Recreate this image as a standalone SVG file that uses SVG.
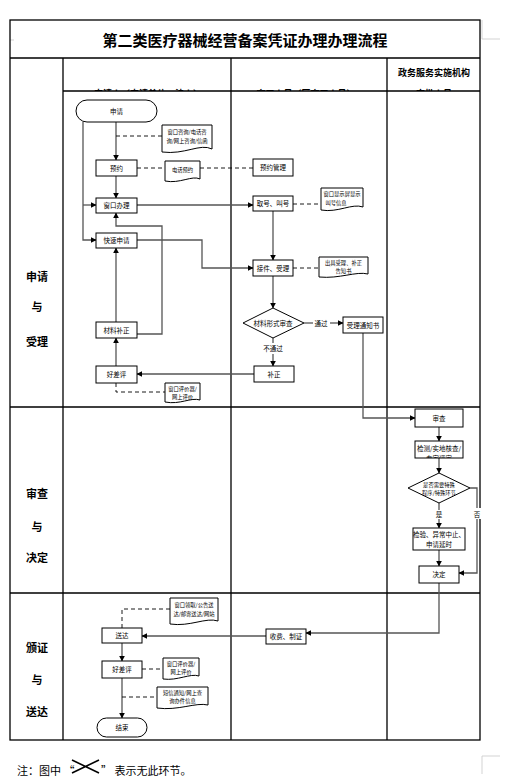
<svg xmlns="http://www.w3.org/2000/svg" width="528" height="782" viewBox="0 0 528 782">
<defs>
<marker id="ah" viewBox="0 0 10 10" refX="9" refY="5" markerWidth="6" markerHeight="6" orient="auto" markerUnits="userSpaceOnUse"><path d="M0,0 L10,5 L0,10 z" fill="#000"/></marker>
<clipPath id="hdr"><rect x="63" y="58" width="417" height="33"/></clipPath>
<clipPath id="chk"><rect x="415" y="441" width="48" height="17"/></clipPath>
<style>
.tb{fill:none;stroke:#000;stroke-width:1.3}
.bx{fill:#fff;stroke:#000;stroke-width:1}
.t{font-family:"Noto Sans CJK SC","Noto Sans",sans-serif;font-size:6.5px;text-anchor:middle;fill:#000}
.s{font-family:"Noto Sans CJK SC","Noto Sans",sans-serif;font-size:5.3px;text-anchor:middle;fill:#000}
.lb{font-family:"Noto Sans CJK SC",sans-serif;font-size:11px;font-weight:bold;text-anchor:middle;fill:#000}
.h{font-family:"Noto Sans CJK SC",sans-serif;font-size:9px;font-weight:bold;text-anchor:middle;fill:#000}
.c{fill:none;stroke:#555;stroke-width:1.3}
.ca{fill:none;stroke:#555;stroke-width:1.3;marker-end:url(#ah)}
.d{fill:none;stroke:#000;stroke-width:0.9;stroke-dasharray:4,3}
.pm{fill:none;stroke:#c8c8c8;stroke-width:0.8}
</style>
</defs>
<rect width="528" height="782" fill="#fff"/>
<path class="pm" d="M482,20 V39 H500 M10,40 H14 M482,774 V756 H500"/>
<g id="table">
<rect class="tb" x="10" y="20" width="470" height="720"/>
<path class="tb" d="M10,58 H480 M63,91 H480 M10,407 H480 M10,593 H480 M63,58 V740 M231,58 V740 M387,58 V740"/>
<text x="245" y="46" font-family="Noto Sans CJK SC,sans-serif" font-size="15" font-weight="bold" text-anchor="middle">第二类医疗器械经营备案凭证办理办理流程</text>
<g clip-path="url(#hdr)">
<text class="h" x="148" y="97">申请人（申请单位、法人）</text>
<text class="h" x="306" y="97">窗口人员（区窗口人员）</text>
<text class="h" x="434" y="76">政务服务实施机构</text>
<text class="h" x="434" y="97">审批人员</text>
</g>
<text class="lb" x="37" y="281">申请</text>
<text class="lb" x="37" y="311">与</text>
<text class="lb" x="37" y="346">受理</text>
<text class="lb" x="37" y="498">审查</text>
<text class="lb" x="37" y="531">与</text>
<text class="lb" x="37" y="562">决定</text>
<text class="lb" x="37" y="652">颁证</text>
<text class="lb" x="37" y="684">与</text>
<text class="lb" x="37" y="716">送达</text>
</g>
<g id="connectors">
<path class="c" d="M83,122 V205"/>
<path class="ca" d="M83,205 H96"/>
<path class="ca" d="M83,205 V240 H96"/>
<path class="ca" d="M116,122 V160"/>
<path class="ca" d="M116,176 V198"/>
<path class="ca" d="M137,205 H253"/>
<path class="ca" d="M273,211 V260"/>
<path class="ca" d="M137,240 H202 V268 H253"/>
<path class="ca" d="M273,276 V308"/>
<path class="c" d="M304,323 H313"/>
<path class="ca" d="M330,323 H343"/>
<path class="c" d="M273,338 V343"/>
<path class="ca" d="M273,354 V366"/>
<path class="ca" d="M254,374 H137"/>
<path class="ca" d="M116,366 V338"/>
<path class="ca" d="M116,322 V248"/>
<path class="ca" d="M137,334 H162 V226 H116 V213"/>
<path class="ca" d="M363,333 V418 H415"/>
<path class="ca" d="M439,427 V441"/>
<path class="ca" d="M439,458 V473"/>
<path class="c" d="M439,503 V510"/>
<path class="ca" d="M439,519 V528"/>
<path class="ca" d="M470,488 H477 V573 H459"/>
<path class="ca" d="M439,550 V566"/>
<path class="ca" d="M439,583 V633 H306"/>
<path class="ca" d="M266,636 H142"/>
<path class="ca" d="M122,643 V661"/>
<path class="ca" d="M122,678 V718"/>
<path class="d" d="M116,136 H162"/>
<path class="d" d="M137,168 H165 M200,168 H253"/>
<path class="d" d="M293,204 H321"/>
<path class="d" d="M293,268 H319"/>
<path class="d" d="M116,383 V392 H165"/>
<path class="d" d="M122,628 V609 H170"/>
<path class="d" d="M142,669 H163"/>
<path class="d" d="M122,697 H157"/>
<text class="t" x="321" y="325.5">通过</text>
<text class="t" x="273" y="351">不通过</text>
<rect x="473" y="508" width="8" height="11" fill="#fff"/>
<text class="t" x="477" y="517" font-size="8">否</text>
<text class="t" x="439" y="517">是</text>
</g>
<g id="n-apply"><rect class="bx" x="76" y="100" width="81" height="22" rx="11"/><text class="t" x="116.5" y="113.5">申请</text></g>
<g id="n-doc1"><path class="bx" d="M162,125 H212 V149 C200,143 185,155 162,152 Z"/><text class="s" x="187" y="134">窗口咨询/电话咨</text><text class="s" x="187" y="143">询/网上咨询/信函</text></g>
<g id="n-yy"><rect class="bx" x="96" y="160" width="41" height="16"/><text class="t" x="116.5" y="170.5">预约</text></g>
<g id="n-doc2"><path class="bx" d="M165,161 H200 V179 C192,175 180,184 165,181 Z"/><text class="s" x="182.5" y="171.5">电话预约</text></g>
<g id="n-yygl"><rect class="bx" x="253" y="159" width="40" height="17"/><text class="t" x="273" y="170">预约管理</text></g>
<g id="n-ckbl"><rect class="bx" x="96" y="198" width="41" height="15"/><text class="t" x="116.5" y="208">窗口办理</text></g>
<g id="n-qh"><rect class="bx" x="253" y="196" width="40" height="15"/><text class="t" x="273" y="206">取号、叫号</text></g>
<g id="n-doc3"><path class="bx" d="M321,188 H363 V207 C352,203 338,213 321,210 Z"/><text class="s" x="342" y="196">窗口显示屏显示</text><text class="s" x="336" y="204.5">叫号信息</text></g>
<g id="n-kssq"><rect class="bx" x="96" y="233" width="41" height="15"/><text class="t" x="116.5" y="243">快速申请</text></g>
<g id="n-jj"><rect class="bx" x="253" y="260" width="40" height="16"/><text class="t" x="273" y="270.5">接件、受理</text></g>
<g id="n-doc4"><path class="bx" d="M319,257 H368 V274 C356,271 340,279 319,277 Z"/><text class="s" x="343.5" y="264.5">出具受理、补正</text><text class="s" x="343.5" y="273">告知书</text></g>
<g id="n-dia1"><path class="bx" d="M273,308 L304,323 L273,338 L243,323 Z"/><text class="t" x="273" y="325.5" font-size="5.5">材料形式审查</text></g>
<g id="n-sltz"><rect class="bx" x="343" y="317" width="40" height="16"/><text class="t" x="363" y="327.5">受理通知书</text></g>
<g id="n-bz"><rect class="bx" x="254" y="366" width="40" height="16"/><text class="t" x="274" y="376.5">补正</text></g>
<g id="n-clbz"><rect class="bx" x="96" y="322" width="41" height="16"/><text class="t" x="116.5" y="332.5">材料补正</text></g>
<g id="n-hcp1"><rect class="bx" x="96" y="366" width="41" height="17"/><text class="t" x="116.5" y="377">好差评</text></g>
<g id="n-doc5"><path class="bx" d="M165,383 H200 V400 C191,397 180,405 165,402 Z"/><text class="s" x="182.5" y="390.5">窗口评价器/</text><text class="s" x="182.5" y="399">网上评价</text></g>
<g id="n-sc"><rect class="bx" x="415" y="409" width="48" height="18"/><text class="t" x="439" y="420.5">审查</text></g>
<g id="n-jc"><rect class="bx" x="415" y="441" width="48" height="17"/><g clip-path="url(#chk)"><text class="t" x="439" y="451">检测/实地核查/</text><text class="t" x="439" y="461">专家评审</text></g></g>
<g id="n-dia2"><path class="bx" d="M439,473 L470,488 L439,503 L408,488 Z"/><text class="s" x="439" y="487" font-size="5">是否需要特殊</text><text class="s" x="439" y="494.5" font-size="4">程序/特殊环节</text></g>
<g id="n-jy"><rect class="bx" x="413" y="528" width="52" height="22"/><text class="t" x="439" y="537">检验、异常中止、</text><text class="t" x="439" y="547">申请延时</text></g>
<g id="n-jd"><rect class="bx" x="419" y="566" width="40" height="17"/><text class="t" x="439" y="577">决定</text></g>
<g id="n-sf"><rect class="bx" x="266" y="629" width="40" height="15"/><text class="t" x="286" y="639">收费、制证</text></g>
<g id="n-doc6"><path class="bx" d="M170,598 H218 V621 C206,617 190,627 170,624 Z"/><text class="s" x="194" y="607">窗口领取/公告送</text><text class="s" x="194" y="616">达/邮寄送达/网站</text></g>
<g id="n-sd"><rect class="bx" x="102" y="628" width="40" height="15"/><text class="t" x="122" y="638">送达</text></g>
<g id="n-hcp2"><rect class="bx" x="102" y="661" width="40" height="17"/><text class="t" x="122" y="672">好差评</text></g>
<g id="n-doc7"><path class="bx" d="M163,658 H199 V676 C190,673 178,681 163,679 Z"/><text class="s" x="181" y="665.5">窗口评价器/</text><text class="s" x="181" y="674">网上评价</text></g>
<g id="n-doc8"><path class="bx" d="M157,687 H208 V705 C196,702 178,711 157,708 Z"/><text class="s" x="182.5" y="694.5">短信通知/网上查</text><text class="s" x="182.5" y="703">询办件信息</text></g>
<g id="n-end"><rect class="bx" x="97" y="718" width="50" height="19" rx="9.5"/><text class="t" x="122" y="730">结束</text></g>
<g id="note">
<text x="17" y="775" font-family="Noto Sans CJK SC,sans-serif" font-size="11">注：图中 “</text>
<path d="M72,760 L99,773 M72,773 L99,760" stroke="#000" stroke-width="1.6" fill="none"/>
<text x="101" y="775" font-family="Noto Sans CJK SC,sans-serif" font-size="11">” 表示无此环节。</text>
</g>
</svg>
